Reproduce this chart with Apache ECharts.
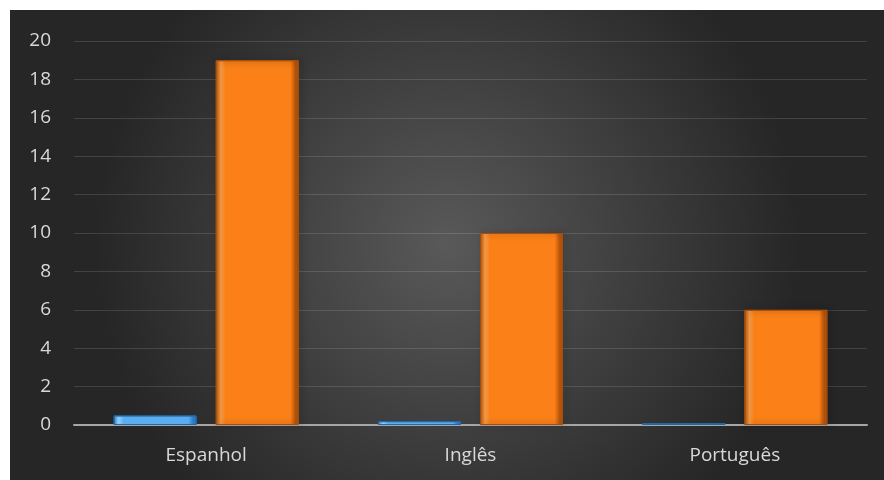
<!DOCTYPE html>
<html>
<head>
<meta charset="utf-8">
<script src="https://cdn.jsdelivr.net/npm/echarts@6/dist/echarts.min.js"></script>
<style>
html, body { margin: 0; padding: 0; background: #fff; }
#chart { position: absolute; left: 10px; top: 10px; width: 874px; height: 470px; }
</style>
</head>
<body>
<div id="chart"></div>
<script>
var categories = ['Espanhol', 'Inglês', 'Português'];
var blueValues = [0.5, 0.2, 0.1];
var orangeValues = [19, 10, 6];
var yTicks = [0, 2, 4, 6, 8, 10, 12, 14, 16, 18, 20];

var chart = echarts.init(document.getElementById('chart'));

function bevel(edge, main, light) {
    return new echarts.graphic.LinearGradient(0, 0, 1, 0, [
        { offset: 0, color: edge },
        { offset: 0.06, color: light },
        { offset: 0.12, color: main },
        { offset: 0.9, color: main },
        { offset: 0.96, color: edge },
        { offset: 1, color: edge }
    ]);
}

var option = {
    backgroundColor: new echarts.graphic.RadialGradient(0.5, 0.5, 0.75, [
        { offset: 0, color: '#595959' },
        { offset: 1, color: '#262626' }
    ]),
    textStyle: { fontFamily: 'Open Sans' },
    grid: { left: 64, right: 17, top: 31, bottom: 55 },
    xAxis: {
        type: 'category',
        data: categories,
        axisTick: { show: false },
        axisLine: { lineStyle: { color: '#a6a6a6', width: 2 } },
        axisLabel: { color: '#d9d9d9', fontSize: 19, margin: 21 }
    },
    yAxis: {
        type: 'value',
        min: yTicks[0],
        max: yTicks[yTicks.length - 1],
        interval: 2,
        axisLine: { show: false },
        axisTick: { show: false },
        axisLabel: { color: '#d9d9d9', fontSize: 19, margin: 23 },
        splitLine: { lineStyle: { color: 'rgba(255,255,255,0.13)', width: 1 } }
    },
    series: [
        {
            type: 'bar',
            data: blueValues,
            barWidth: 83,
            barGap: '23%',
            itemStyle: {
                color: bevel('#2c79c4', '#5aaef0', '#8fd0ff'),
                borderColor: '#2466a8',
                borderWidth: 1
            }
        },
        {
            type: 'bar',
            data: orangeValues,
            barWidth: 83,
            barGap: '23%',
            itemStyle: {
                color: bevel('#b8560c', '#fb8017', '#ffa24a'),
                borderColor: '#a84e0a',
                borderWidth: 1,
                shadowColor: 'rgba(0,0,0,0.5)',
                shadowBlur: 6,
                shadowOffsetX: 2,
                shadowOffsetY: 0
            }
        }
    ]
};

chart.setOption(option);
</script>
</body>
</html>
